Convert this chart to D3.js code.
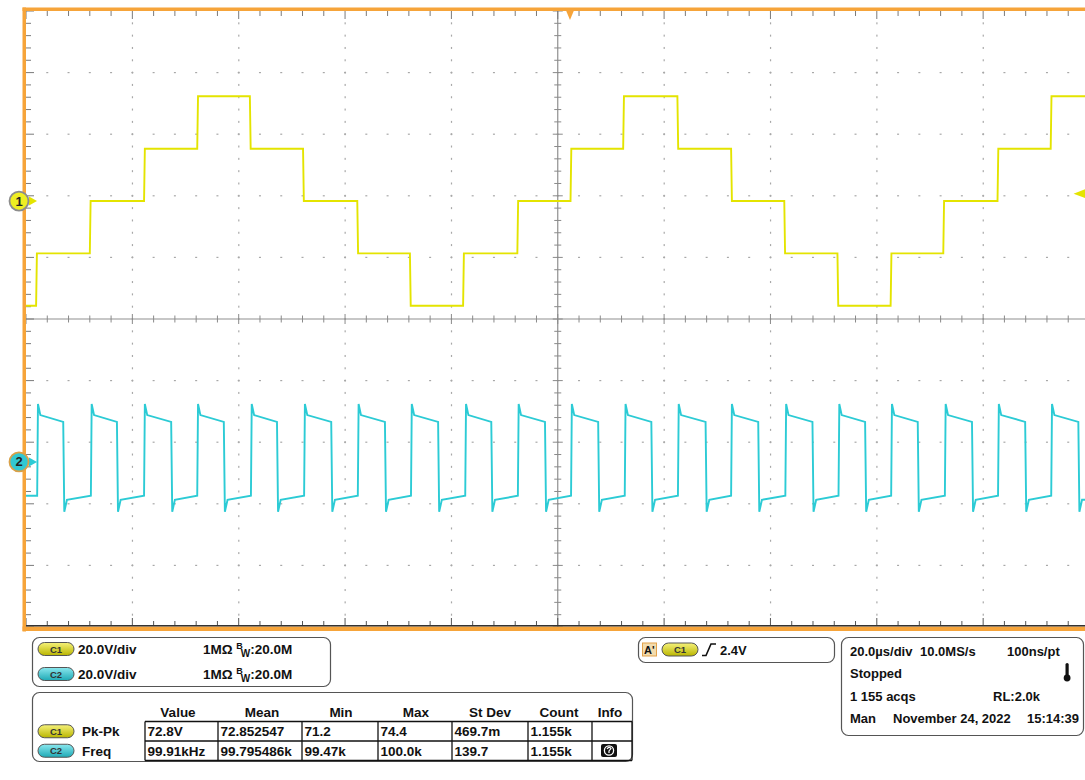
<!DOCTYPE html>
<html>
<head>
<meta charset="utf-8">
<script src="https://cdn.jsdelivr.net/npm/d3@7"></script>
<style>
  body { margin: 0; background: #fff; }
  svg { display: block; font-family: "Liberation Sans", Arial, sans-serif; }
</style>
</head>
<body>
<svg id="scope" width="1085" height="780"></svg>
<script>
// ---- waveform data (time in µs from screen centre, volts) ----
const c1StepTimes = [-98.1, -88.0, -77.8, -67.8, -57.9, -47.9, -37.7, -27.8, -17.8, -7.6,
                      2.4, 12.3, 22.5, 32.6, 42.6, 52.6, 62.6, 72.5, 82.7, 92.7];
const c1Levels = [-34, -17, 0, 17, 34, 17, 0, -17, -34, -17, 0,
                   17, 34, 17, 0, -17, -34, -17, 0, 17, 34];

const c2Rise = [-97.9, -87.8, -77.8, -67.8, -57.7, -47.7, -37.6, -27.6, -17.4, -7.5,
                 2.5, 12.6, 22.6, 32.6, 42.8, 52.8, 62.7, 72.8, 82.8, 92.8];
const c2Fall = [-93.0, -82.9, -72.7, -62.8, -52.8, -42.6, -32.5, -22.5, -12.5, -2.4,
                 7.6, 17.6, 27.8, 37.7, 47.9, 57.8, 67.7, 77.9, 87.9, 97.9];
// one cycle shape: [spike, start, end] of high and low halves
const c2High = [18.8, 15.2, 13.0];
const c2Low = [-16.2, -12.3, -11.0];

const chOffsetDiv = { c1: 1.915, c2: -2.32 };
const voltsPerDiv = 20;
const trigTime = 2.3, trigLevel = 2.4;

// ---- readouts ----
const chanRows = [["C1", "20.0V/div", "1MΩ", "20.0M"], ["C2", "20.0V/div", "1MΩ", "20.0M"]];
const measHead = ["Value", "Mean", "Min", "Max", "St Dev", "Count", "Info"];
const measRows = [
  ["C1", "Pk-Pk", "72.8V", "72.852547", "71.2", "74.4", "469.7m", "1.155k"],
  ["C2", "Freq", "99.91kHz", "99.795486k", "99.47k", "100.0k", "139.7", "1.155k"]
];
const horizRows = [
  [["20.0µs/div", 850], ["10.0MS/s", 920], ["100ns/pt", 1007]],
  [["Stopped", 850]],
  [["1 155 acqs", 850], ["RL:2.0k", 993]],
  [["Man", 850], ["November 24, 2022", 893], ["15:14:39", 1027]]
];

const ORANGE = "#f6a43a", YEL = "#e4e400", CYAN = "#2ccbd5";
const svg = d3.select("#scope");

const x = d3.scaleLinear().domain([-100, 100]).range([26, 1089.5]);
const yDiv = d3.scaleLinear().domain([-5, 5]).range([627, 11]);
const yV = ch => v => yDiv(v / voltsPerDiv + chOffsetDiv[ch]);

const X0 = x(-100), X1 = x(100), Y0 = yDiv(5), Y1 = yDiv(-5);

svg.append("defs").append("clipPath").attr("id", "plotClip")
  .append("rect").attr("x", X0).attr("y", Y0).attr("width", X1 - X0).attr("height", Y1 - Y0);

// ---- graticule ----
const grid = svg.append("g");
const xMinor = d3.range(-100, 100.01, 4);
const yMinor = d3.range(-5, 5.01, 0.2);
const xMajor = d3.range(-80, 81, 20).filter(d => d !== 0);
const yMajor = d3.range(-4, 4.1, 1).filter(d => d !== 0);

xMajor.forEach(t => {
  grid.selectAll(null).data(yMinor.slice(1, -1)).join("rect")
    .attr("x", x(t) - 0.5).attr("y", d => yDiv(d) - 1).attr("width", 1.2).attr("height", 2)
    .attr("fill", "#a8a8a8");
});
yMajor.forEach(v => {
  grid.selectAll(null).data(xMinor.slice(1, -1)).join("rect")
    .attr("x", d => x(d) - 1).attr("y", yDiv(v) - 0.6).attr("width", 2).attr("height", 1.2)
    .attr("fill", "#a8a8a8");
});

// centre axes
grid.append("line").attr("x1", x(0)).attr("x2", x(0)).attr("y1", Y0).attr("y2", Y1)
  .attr("stroke", "#8f8f8f").attr("stroke-width", 1.2);
grid.append("line").attr("x1", X0).attr("x2", X1).attr("y1", yDiv(0)).attr("y2", yDiv(0))
  .attr("stroke", "#8f8f8f").attr("stroke-width", 1.2);
const isMajX = d => Math.abs(d % 20) < 0.01;
const isMajY = d => Math.abs(d - Math.round(d)) < 0.01;
grid.selectAll(null).data(yMinor).join("line")
  .attr("x1", d => x(0) - (isMajY(d) ? 5 : 3.5)).attr("x2", d => x(0) + (isMajY(d) ? 5 : 3.5))
  .attr("y1", d => yDiv(d)).attr("y2", d => yDiv(d)).attr("stroke", "#8a8a8a").attr("stroke-width", 1);
grid.selectAll(null).data(xMinor).join("line")
  .attr("y1", d => yDiv(0) - (isMajX(d) ? 5 : 3.5)).attr("y2", d => yDiv(0) + (isMajX(d) ? 5 : 3.5))
  .attr("x1", d => x(d)).attr("x2", d => x(d)).attr("stroke", "#8a8a8a").attr("stroke-width", 1);

// border ticks
grid.selectAll(null).data(yMinor).join("line")
  .attr("x1", X0).attr("x2", d => X0 + (isMajY(d) ? 8 : 5))
  .attr("y1", d => yDiv(d)).attr("y2", d => yDiv(d)).attr("stroke", "#7a7a7a").attr("stroke-width", 1);
grid.selectAll(null).data(xMinor).join("line")
  .attr("x1", d => x(d)).attr("x2", d => x(d))
  .attr("y1", Y0).attr("y2", d => Y0 + (isMajX(d) ? 8 : 5)).attr("stroke", "#7a7a7a").attr("stroke-width", 1);
grid.selectAll(null).data(xMinor).join("line")
  .attr("x1", d => x(d)).attr("x2", d => x(d))
  .attr("y1", Y1 - 1).attr("y2", d => Y1 - 1 - (isMajX(d) ? 8 : 5)).attr("stroke", "#555").attr("stroke-width", 1);

// ---- traces ----
const traces = svg.append("g").attr("clip-path", "url(#plotClip)");

const c1Pts = [[-100, c1Levels[0]]];
c1StepTimes.forEach((t, i) => { c1Pts.push([t, c1Levels[i]], [t + 0.15, c1Levels[i + 1]]); });
c1Pts.push([100, c1Levels[c1Levels.length - 1]]);
traces.append("path").datum(c1Pts).attr("fill", "none").attr("stroke", YEL).attr("stroke-width", 1.9)
  .attr("d", d3.line().x(d => x(d[0])).y(d => yV("c1")(d[1])));

const c2Pts = [[-100, c2Low[2]]];
c2Rise.forEach((r, i) => {
  c2Pts.push([r, c2Low[2]], [r + 0.15, c2High[0]], [r + 0.6, c2High[1]]);
  const f = c2Fall[i];
  c2Pts.push([f, c2High[2]], [f + 0.2, c2Low[0]], [f + 0.7, c2Low[1]]);
});
c2Pts.push([100, c2Low[1]]);
traces.append("path").datum(c2Pts).attr("fill", "none").attr("stroke", CYAN).attr("stroke-width", 1.9)
  .attr("d", d3.line().x(d => x(d[0])).y(d => yV("c2")(d[1])));

// ---- frame ----
svg.append("rect").attr("x", 22.5).attr("y", 7.5).attr("width", 1085).attr("height", 3.5).attr("fill", ORANGE);
svg.append("rect").attr("x", 22.5).attr("y", 7.5).attr("width", 3.5).attr("height", 624).attr("fill", ORANGE);
svg.append("rect").attr("x", 22.5).attr("y", 626.5).attr("width", 1085).attr("height", 4.5).attr("fill", ORANGE);
svg.append("line").attr("x1", X0).attr("x2", 1085).attr("y1", 625.8).attr("y2", 625.8)
  .attr("stroke", "#333").attr("stroke-width", 1.6);

// trigger position marker (top) and trigger level marker (right)
const tx = x(trigTime);
svg.append("path").attr("d", `M${tx - 5},8 L${tx + 5},8 L${tx},20 Z`).attr("fill", ORANGE);
const ty = yV("c1")(trigLevel);
svg.append("path").attr("d", `M${x(97)},${ty} L${x(99.5)},${ty - 5} L${x(99.5)},${ty + 5} Z`).attr("fill", YEL);

// channel ground markers
[["1", "c1", "#eeee22", "#8c8c8c", YEL], ["2", "c2", "#32c8d2", "#d9a048", CYAN]].forEach(([lab, ch, fill, ring, arrow]) => {
  const yy = yDiv(chOffsetDiv[ch]);
  svg.append("path").attr("d", `M29,${yy - 4.5} L37,${yy} L29,${yy + 4.5} Z`).attr("fill", arrow);
  svg.append("circle").attr("cx", 19).attr("cy", yy).attr("r", 9.5)
    .attr("fill", fill).attr("stroke", ring).attr("stroke-width", 1.8);
  svg.append("text").attr("x", 19).attr("y", yy + 4.5).attr("text-anchor", "middle")
    .attr("font-size", 13).attr("font-weight", "bold").attr("fill", "#222").text(lab);
});

// ---- readout panels ----
const defs = svg.select("defs");
[["gC1", "#f6f27a", "#b9b500"], ["gC2", "#8ae8ef", "#1ea9b5"]].forEach(([id, a, b]) => {
  const g = defs.append("linearGradient").attr("id", id).attr("x1", 0).attr("x2", 0).attr("y1", 0).attr("y2", 1);
  g.append("stop").attr("offset", "0%").attr("stop-color", a);
  g.append("stop").attr("offset", "100%").attr("stop-color", b);
});
function pill(px, cy, lab) {
  svg.append("rect").attr("x", px).attr("y", cy - 6.5).attr("width", 36).attr("height", 13).attr("rx", 6.5)
    .attr("fill", lab === "C1" ? "url(#gC1)" : "url(#gC2)").attr("stroke", "#555").attr("stroke-width", 1);
  svg.append("text").attr("x", px + 18).attr("y", cy + 3.5).attr("text-anchor", "middle")
    .attr("font-size", 9.5).attr("font-weight", "bold").attr("fill", "#333").text(lab);
}
function box(x0, y0, w, h) {
  svg.append("rect").attr("x", x0).attr("y", y0).attr("width", w).attr("height", h).attr("rx", 7)
    .attr("fill", "#fff").attr("stroke", "#555").attr("stroke-width", 1.2);
}
const txt = (px, py, s, size, anchor) => svg.append("text").attr("x", px).attr("y", py)
  .attr("font-size", size).attr("font-weight", "bold").attr("fill", "#111")
  .attr("text-anchor", anchor || "start").text(s);

// channel box
box(32.5, 637.5, 298, 49);
chanRows.forEach((r, i) => {
  const cy = 649 + i * 25;
  pill(38, cy, r[0]);
  txt(78, cy + 4.8, r[1], 13.5);
  const t = txt(203, cy + 4.8, r[2] + " ", 13.5);
  t.append("tspan").attr("font-size", 9).attr("dy", -5).text("B");
  t.append("tspan").attr("font-size", 10).attr("dy", 8).attr("dx", -2).text("W");
  t.append("tspan").attr("dy", -3).text(":" + r[3]);
});

// measurement box
box(32.5, 692.5, 600, 69);
const colX = [145, 218, 302, 378, 452, 528, 592, 632];
const headX = [178, 262, 341, 416, 490, 559, 610];
measHead.forEach((h, i) => txt(headX[i], 716.5, h, 13.5, "middle"));
const rowY = [721.5, 741, 760.5];
svg.append("g").selectAll("line").data(rowY).join("line")
  .attr("x1", colX[0]).attr("x2", colX[7]).attr("y1", d => d).attr("y2", d => d)
  .attr("stroke", "#111").attr("stroke-width", 1.3);
svg.append("g").selectAll("line").data(colX).join("line")
  .attr("x1", d => d).attr("x2", d => d).attr("y1", rowY[0]).attr("y2", rowY[2])
  .attr("stroke", "#111").attr("stroke-width", 1.3);
measRows.forEach((r, i) => {
  const cy = (rowY[i] + rowY[i + 1]) / 2;
  pill(38, cy, r[0]);
  txt(82, cy + 4.8, r[1], 13.5);
  r.slice(2).forEach((v, j) => txt(colX[j] + 2.5, cy + 4.8, v, 13.5));
});
// info icon
svg.append("rect").attr("x", 601).attr("y", 744).attr("width", 16).attr("height", 13).attr("rx", 2).attr("fill", "#111");
svg.append("circle").attr("cx", 609).attr("cy", 750.5).attr("r", 4.6).attr("fill", "none").attr("stroke", "#fff").attr("stroke-width", 1.3);
svg.append("path").attr("d", "M607,749 Q609,746 611,748.5 L609,751 L609,753").attr("fill", "none").attr("stroke", "#fff").attr("stroke-width", 1.2);

// trigger box
box(638.5, 637.5, 196, 25);
svg.append("rect").attr("x", 642.5).attr("y", 643).attr("width", 14).attr("height", 13)
  .attr("fill", "#f2dcae").attr("stroke", "#e3a24a").attr("stroke-width", 1);
txt(644, 654, "A'", 11);
pill(662, 649.5, "C1");
svg.append("path").attr("d", "M702,655.5 L706,655.5 L711,644 L716,644").attr("fill", "none")
  .attr("stroke", "#111").attr("stroke-width", 1.6);
txt(720, 654.5, "2.4V", 13);

// horizontal / acquisition box
box(841.5, 637.5, 242, 98);
horizRows.forEach((row, i) => row.forEach(([s, px]) => txt(px, 656 + i * 22.3, s, 13)));
svg.append("rect").attr("x", 1065.5).attr("y", 663).attr("width", 3.2).attr("height", 13).attr("rx", 1.6).attr("fill", "#111");
svg.append("circle").attr("cx", 1067.1).attr("cy", 678).attr("r", 3.4).attr("fill", "#111");
</script>
</body>
</html>
